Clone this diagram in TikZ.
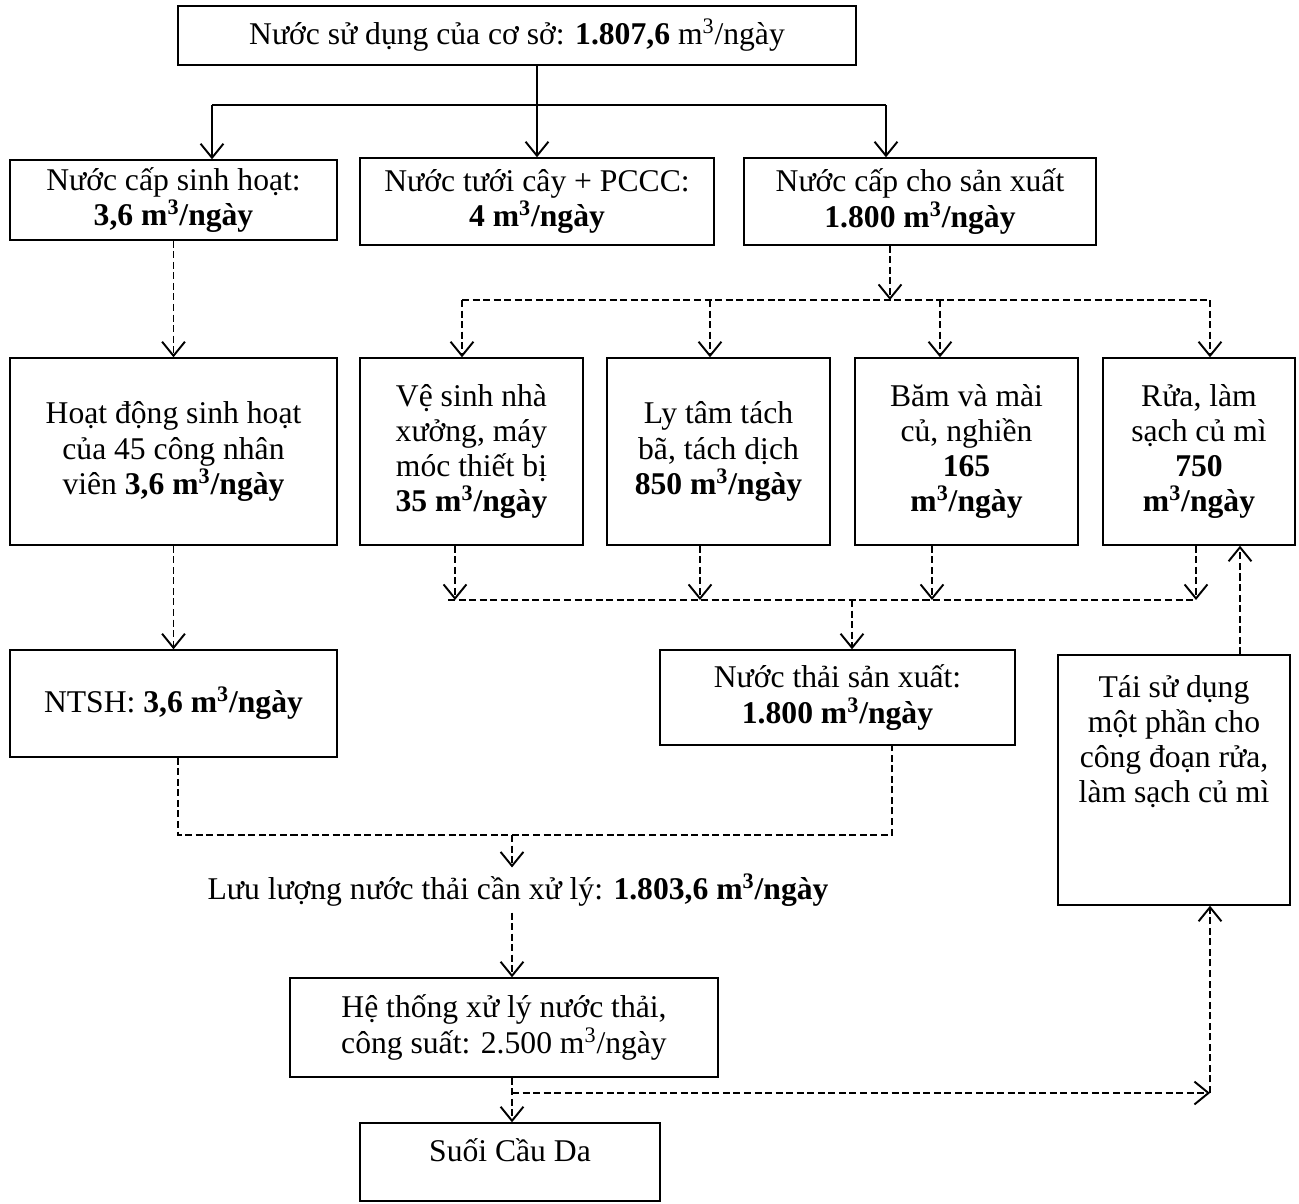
\documentclass[tikz,border=0pt]{standalone}
\usepackage{fontspec}
\setmainfont{Liberation Serif}
\usetikzlibrary{arrows.meta, positioning}
\newcommand{\mday}{m\textsuperscript{3}/ngày}
\tikzset{
	block/.style={draw, line width=0.8pt, align=center, inner sep=1pt},
	flow/.style={line width=1.1pt},
	dflow/.style={line width=1.1pt, dash pattern=on 4pt off 2pt}
}

\begin{document}
\begin{tikzpicture}[>={Straight Barb[length=8pt,width=13pt]}, font=\fontsize{18}{20}\selectfont]
	\useasboundingbox (0,0) rectangle (25.98,-24.06);

	\node[block, minimum width=13.56cm, minimum height=1.18cm] (top) at (10.34,-0.71) {Nước sử dụng của cơ sở: \textbf{1.807,6} \mday};

	\node[block, minimum width=6.54cm, minimum height=1.6cm] (sinh) at (3.47,-4.0) {Nước cấp sinh hoạt:\\ \textbf{3,6 \mday}};
	\node[block, minimum width=7.08cm, minimum height=1.74cm] (tuoi) at (10.74,-4.03) {Nước tưới cây + PCCC:\\ \textbf{4 \mday}};
	\node[block, minimum width=7.04cm, minimum height=1.74cm] (sx) at (18.4,-4.03) {Nước cấp cho sản xuất\\ \textbf{1.800 \mday}};

	\node[block, minimum width=6.54cm, minimum height=3.74cm] (hd) at (3.47,-9.03) {Hoạt động sinh hoạt\\ của 45 công nhân\\ viên \textbf{3,6 \mday}};
	\node[block, minimum width=4.46cm, minimum height=3.74cm] (vs) at (9.43,-9.03) {Vệ sinh nhà\\ xưởng, máy\\ móc thiết bị\\ \textbf{35 \mday}};
	\node[block, minimum width=4.46cm, minimum height=3.74cm] (ly) at (14.37,-9.03) {Ly tâm tách\\ bã, tách dịch\\ \textbf{850 \mday}};
	\node[block, minimum width=4.46cm, minimum height=3.74cm] (bam) at (19.33,-9.03) {Băm và mài\\ củ, nghiền\\ \textbf{165}\\ \textbf{\mday}};
	\node[block, minimum width=3.84cm, minimum height=3.74cm] (rua) at (23.98,-9.03) {Rửa, làm\\ sạch củ mì\\ \textbf{750}\\ \textbf{\mday}};

	\node[block, minimum width=6.54cm, minimum height=2.14cm] (ntsh) at (3.47,-14.07) {NTSH: \textbf{3,6 \mday}};
	\node[block, minimum width=7.1cm, minimum height=1.9cm] (nts) at (16.75,-13.95) {Nước thải sản xuất:\\ \textbf{1.800 \mday}};

	\node[block, minimum width=4.64cm, minimum height=5.0cm] (tai) at (23.48,-15.6) {};
	\node[align=center, below=0.3cm of tai.north] (taitext) {Tái sử dụng\\ một phần cho\\ công đoạn rửa,\\ làm sạch củ mì};

	\node (luu) at (10.36,-17.8) {Lưu lượng nước thải cần xử lý: \textbf{1.803,6 \mday}};

	\node[block, minimum width=8.56cm, minimum height=1.98cm] (ht) at (10.08,-20.55) {Hệ thống xử lý nước thải,\\ công suất: 2.500 \mday};

	\node[block, minimum width=6.0cm, minimum height=1.56cm] (suoi) at (10.2,-23.24) {};
	\node[below=0.2cm of suoi.north] (suoitext) {Suối Cầu Da};

	% nguon nuoc
	\coordinate (j1) at (4.24,-2.1);
	\coordinate (j3) at (17.72,-2.1);
	\draw[flow, ->] (top.south -| tuoi) -- (tuoi.north);
	\draw[flow] (j1) -- (j3);
	\draw[flow, ->] (j1) -- (j1 |- sinh.north);
	\draw[flow, ->] (j3) -- (j3 |- sx.north);

	% sinh hoat
	\draw[dflow, ->] (sinh) -- (hd);
	\draw[dflow, ->] (hd) -- (ntsh);

	% san xuat
	\coordinate (k0) at (17.8,-6.0);
	\coordinate (k1) at (9.24,-6.0);
	\coordinate (k2) at (14.2,-6.0);
	\coordinate (k3) at (18.8,-6.0);
	\coordinate (k4) at (24.2,-6.0);
	\draw[dflow, ->] (sx.south -| k0) -- (k0);
	\draw[dflow] (k1) -- (k4);
	\foreach \k in {k1,k2,k3,k4}
		\draw[dflow, ->] (\k) -- (\k |- vs.north);

	\coordinate (m0) at (8.96,-12.0);
	\coordinate (m1) at (9.1,-12.0);
	\coordinate (m2) at (14.0,-12.0);
	\coordinate (m3) at (18.64,-12.0);
	\coordinate (m4) at (23.92,-12.0);
	\coordinate (m5) at (17.04,-12.0);
	\foreach \m in {m1,m2,m3,m4}
		\draw[dflow, ->] (\m |- vs.south) -- (\m);
	\draw[dflow] (m0) -- (m4);
	\draw[dflow, ->] (m5) -- (m5 |- nts.north);

	% tai su dung
	\coordinate (r) at (24.8,0);
	\draw[dflow, ->] (r |- tai.north) -- (r |- rua.south);

	% nuoc thai
	\coordinate (n1) at (3.56,-16.7);
	\coordinate (n2) at (17.84,-16.7);
	\coordinate (n3) at (10.24,-16.7);
	\draw[dflow] (n1 |- ntsh.south) -- (n1) -- (n2) -- (n2 |- nts.south);
	\draw[dflow, ->] (n3) -- (n3 |- luu.north);
	\draw[dflow, ->] (n3 |- luu.south) -- (n3 |- ht.north);
	\draw[dflow, ->] (n3 |- ht.south) -- (n3 |- suoi.north);

	\coordinate (b2) at (24.2,-21.86);
	\draw[dflow, ->] (n3 |- b2) -- (b2);
	\draw[dflow, ->] (b2) -- (b2 |- tai.south);
\end{tikzpicture}
\end{document}
